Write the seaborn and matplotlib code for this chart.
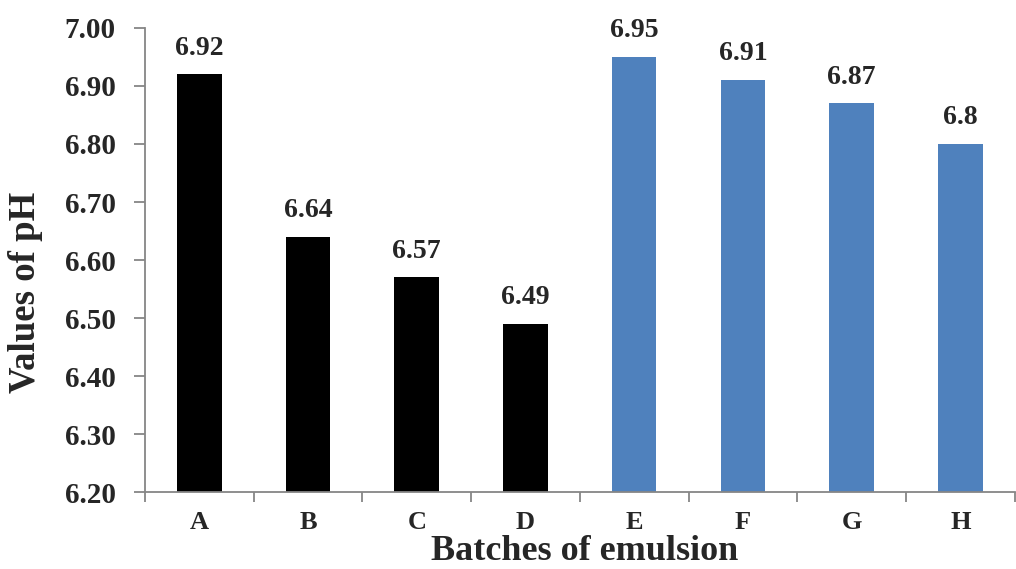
import matplotlib
matplotlib.use("Agg")
import matplotlib.pyplot as plt
import seaborn as sns
import pandas as pd
from matplotlib.ticker import FixedLocator

batches = ["A", "B", "C", "D", "E", "F", "G", "H"]
ph_values = [6.92, 6.64, 6.57, 6.49, 6.95, 6.91, 6.87, 6.80]
value_labels = ["6.92", "6.64", "6.57", "6.49", "6.95", "6.91", "6.87", "6.8"]
bar_colors = ["#000000"] * 4 + ["#4F81BD"] * 4
y_ticks = [6.20, 6.30, 6.40, 6.50, 6.60, 6.70, 6.80, 6.90, 7.00]

sns.set_theme(style="white")
plt.rcParams["font.family"] = ["Liberation Serif", "DejaVu Serif"]
plt.rcParams["font.weight"] = "bold"

df = pd.DataFrame({"batch": batches, "ph": ph_values})

fig = plt.figure(figsize=(10.16, 5.69), dpi=100)
ax = fig.add_axes([0.1427, 0.1353, 0.856, 0.8155])

sns.barplot(data=df, x="batch", y="ph", hue="batch", palette=bar_colors,
            legend=False, width=0.41, ax=ax, saturation=1)
for p in ax.patches:
    p.set_edgecolor("none")

ax.set_ylim(6.20, 7.00)
ax.set_xlim(-0.5, 7.5)
ax.set_yticks(y_ticks)
ax.set_yticklabels([f"{v:.2f}" for v in y_ticks], fontsize=21, fontweight="bold")
ax.set_xticks(range(len(batches)))
ax.set_xticklabels(batches, fontsize=19, fontweight="bold")
ax.xaxis.set_minor_locator(FixedLocator([i - 0.5 for i in range(len(batches) + 1)]))

ax.tick_params(axis="x", which="major", length=0, pad=14)
ax.tick_params(axis="x", which="minor", length=7, width=1.3, color="#868686", direction="out", bottom=True)
ax.tick_params(axis="y", which="major", length=8, width=1.3, color="#868686", direction="out", left=True, pad=13)

for side in ["top", "right"]:
    ax.spines[side].set_visible(False)
for side in ["left", "bottom"]:
    ax.spines[side].set_color("#868686")
    ax.spines[side].set_linewidth(1.3)

for i, (v, lab) in enumerate(zip(ph_values, value_labels)):
    ax.annotate(lab, xy=(i, v), xytext=(0, 10), textcoords="offset points",
                ha="center", va="bottom", fontsize=20, fontweight="bold")

ax.set_xlabel("Batches of emulsion", fontsize=26, fontweight="bold")
ax.xaxis.set_label_coords(0.506, -0.092)
ax.set_ylabel("Values of pH", fontsize=26.5, fontweight="bold")
ax.yaxis.set_label_coords(-0.117, 0.431)

fig.savefig("out.png", dpi=100)
